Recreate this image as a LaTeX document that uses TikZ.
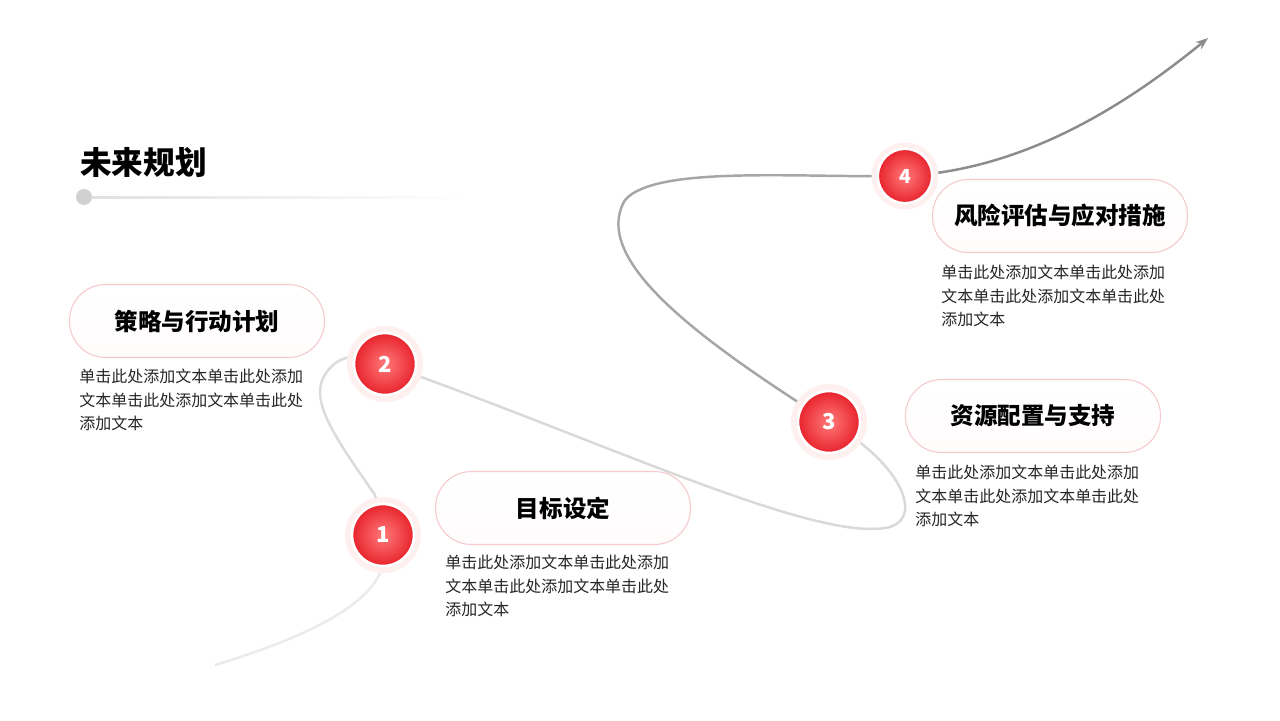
\documentclass[tikz,border=0pt]{standalone}
\usepackage{fontspec}
\setmainfont{Noto Sans CJK SC}
\usetikzlibrary{shadings,arrows.meta}
\definecolor{rl}{HTML}{FF7A7A}
\definecolor{rd}{HTML}{E8232D}
\definecolor{pb}{HTML}{F6C9CC}
\tikzset{
 pill/.style={draw=pb,line width=0.6pt,rounded corners=7.2mm,minimum width=255*0.02cm,minimum height=73*0.02cm,top color=white,bottom color=white!94!pb,font=\bfseries\fontsize{13.4}{15}\selectfont},
 num/.style={circle,minimum size=62*0.02cm,inner sep=0pt,shading=radial,inner color=rl,outer color=rd,text=white,font=\bfseries\fontsize{12.5}{14}\selectfont,draw=white,line width=1.5pt},
 halo/.style={circle,fill=red!6,minimum size=76*0.02cm,inner sep=0pt},
 body/.style={anchor=north west,align=left,inner sep=0pt,font=\fontsize{9.1}{13.2}\selectfont,text=black!85}
}
\begin{document}
\begin{tikzpicture}[x=0.02cm,y=-0.02cm]
\useasboundingbox (0,0) rectangle (1280,720);
\fill[white] (0,0) rectangle (1280,720);
% curve
\coordinate (s0) at (215,665);
\coordinate (e0) at (1208,38);
\draw[black!8,line width=1.4pt] (s0) .. controls (330,630) and (400,590) .. (383,535);
\draw[black!14,line width=1.4pt] (383,535) -- (375,495) .. controls (330,430) and (305,395) .. (330,368) .. controls (345,352) and (365,355) .. (385,364);
\draw[black!15,line width=1.4pt] (385,364) .. controls (600,440) and (810,540) .. (885,528) .. controls (925,522) and (905,465) .. (829,422);
\draw[black!35,line width=1.4pt] (829,422) .. controls (700,340) and (590,260) .. (625,200) .. controls (655,165) and (800,178) .. (905,176);
\draw[black!45,line width=1.4pt,-{Stealth[length=7pt]}] (905,176) .. controls (1020,170) and (1120,110) .. (e0);
% title
\node[anchor=west,inner sep=0pt,font=\bfseries\fontsize{18}{20}\selectfont] (title) at (80,162) {未来规划};
\fill[black!18] (84,197) circle (8);
\shade[left color=black!12,right color=white] (92,196.4) rectangle (470,198);
% pills
\node[pill] (p1) at (563,508) {目标设定};
\node[pill] (p2) at (197,321) {策略与行动计划};
\node[pill] (p3) at (1033,416) {资源配置与支持};
\node[pill] (p4) at (1060,216) {风险评估与应对措施};
% numbers
\foreach \n/\x/\y/\s in {1/383/535/1,2/385/364/1,3/829/422/1,4/905/176/0.88}{
 \node[halo,scale=\s] at (\x,\y) {};
 \node[num,scale=\s] (n\n) at (\x,\y) {\n};
}
% body text
\node[body] (b1) at (445,555) {单击此处添加文本单击此处添加\\文本单击此处添加文本单击此处\\添加文本};
\node[body] (b2) at (79,369) {单击此处添加文本单击此处添加\\文本单击此处添加文本单击此处\\添加文本};
\node[body] (b3) at (915,465) {单击此处添加文本单击此处添加\\文本单击此处添加文本单击此处\\添加文本};
\node[body] (b4) at (941,265) {单击此处添加文本单击此处添加\\文本单击此处添加文本单击此处\\添加文本};
\end{tikzpicture}
\end{document}
